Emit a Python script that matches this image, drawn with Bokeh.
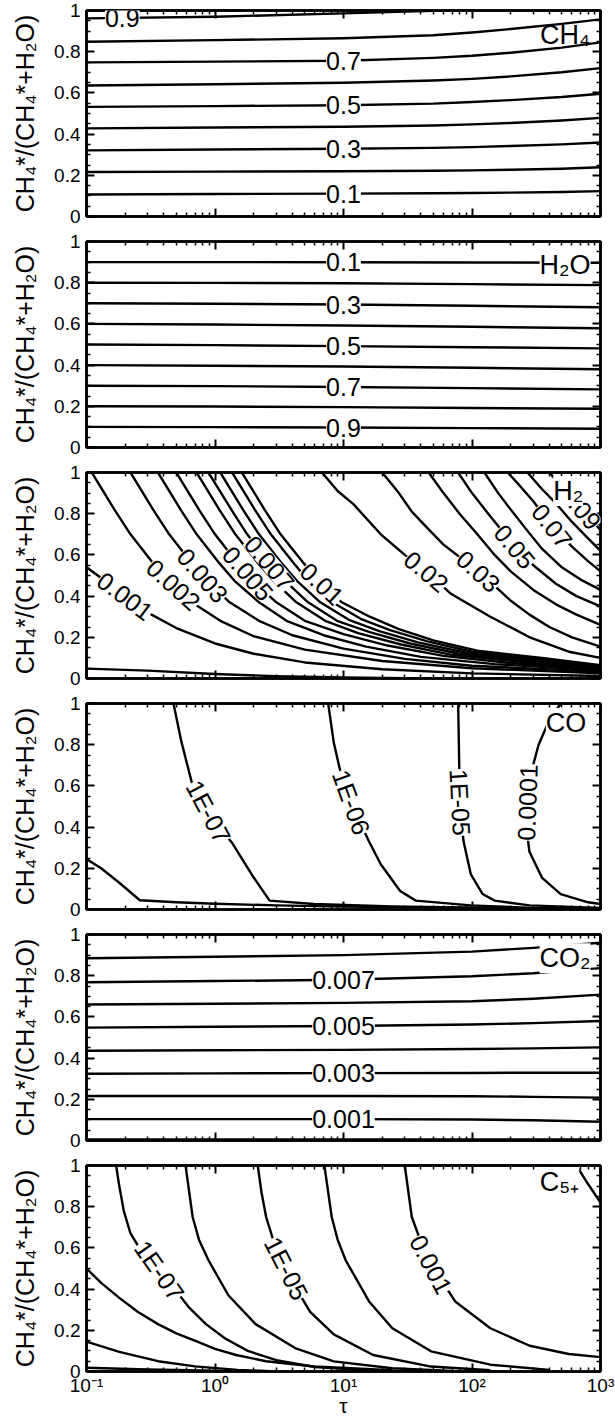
from bokeh.plotting import figure
from bokeh.models import (Range1d, LogAxis, LinearAxis, FixedTicker,
                          CustomJSTickFormatter, ColumnDataSource, LabelSet, Label)
from bokeh.core.properties import value
from bokeh.layouts import column
from bokeh.embed import file_html
from bokeh.resources import INLINE

FONT = "Liberation Sans"

# ---------------- axes / ticks ----------------
TAU_TICKS = [0.1, 1, 10, 100, 1000]
TAU_MINOR = [0.2, 0.3, 0.4, 0.5, 0.6, 0.7, 0.8, 0.9,
             2, 3, 4, 5, 6, 7, 8, 9,
             20, 30, 40, 50, 60, 70, 80, 90,
             200, 300, 400, 500, 600, 700, 800, 900]
Y_TICKS = [0, 0.2, 0.4, 0.6, 0.8, 1.0]
Y_MINOR = [0.05, 0.1, 0.15, 0.25, 0.3, 0.35, 0.45, 0.5, 0.55,
           0.65, 0.7, 0.75, 0.85, 0.9, 0.95]
Y_TITLE = "CH\u2084*/(CH\u2084*+H\u2082O)"
X_TITLE = "\u03c4"

PANEL_NAMES = ["CH\u2084", "H\u2082O", "H\u2082", "CO", "CO\u2082", "C\u2085\u208a"]
PANEL_NAME_TAU = [530, 530, 560, 540, 530, 480]
PANEL_NAME_Y = [0.88, 0.885, 0.91, 0.905, 0.885, 0.92]
PANEL_NAME_BG = [None, "white", "white", "white", "white", "white"]

# ---------------- panel 1 : CH4 ----------------
CH4_TAU = [0.1, 1, 10, 50, 100, 200, 500, 1000]
CH4_LEVELS = [0.1, 0.2, 0.3, 0.4, 0.5, 0.6, 0.7, 0.8, 0.9]
CH4_Y = [
    [0.107, 0.109, 0.111, 0.113, 0.114, 0.116, 0.119, 0.123],
    [0.216, 0.218, 0.220, 0.222, 0.224, 0.227, 0.232, 0.239],
    [0.321, 0.325, 0.329, 0.333, 0.337, 0.342, 0.350, 0.359],
    [0.428, 0.432, 0.436, 0.442, 0.447, 0.454, 0.466, 0.479],
    [0.532, 0.536, 0.540, 0.548, 0.556, 0.565, 0.580, 0.596],
    [0.636, 0.642, 0.649, 0.660, 0.668, 0.680, 0.700, 0.720],
    [0.748, 0.752, 0.756, 0.770, 0.780, 0.795, 0.820, 0.845],
    [0.848, 0.856, 0.865, 0.880, 0.893, 0.910, 0.935, 0.957],
    [0.962, 0.970, 0.986, 0.998, 1.010, 1.030, 1.050, 1.070],
]
CH4_LABEL_TEXT = ["0.9", "0.7", "0.5", "0.3", "0.1"]
CH4_LABEL_TAU = [0.19, 10, 10, 10, 10]
CH4_LABEL_Y = [0.966, 0.756, 0.540, 0.329, 0.111]
CH4_LABEL_ANGLE = [0, 0, 0, 0, 0]

# ---------------- panel 2 : H2O ----------------
H2O_TAU = [0.1, 1, 10, 100, 1000]
H2O_LEVELS = [0.1, 0.2, 0.3, 0.4, 0.5, 0.6, 0.7, 0.8, 0.9]
H2O_Y = [
    [0.900, 0.900, 0.899, 0.898, 0.897],
    [0.800, 0.799, 0.797, 0.793, 0.788],
    [0.700, 0.698, 0.694, 0.688, 0.681],
    [0.600, 0.597, 0.592, 0.586, 0.579],
    [0.500, 0.497, 0.492, 0.487, 0.481],
    [0.400, 0.397, 0.393, 0.387, 0.380],
    [0.300, 0.298, 0.294, 0.288, 0.282],
    [0.200, 0.199, 0.196, 0.192, 0.188],
    [0.100, 0.099, 0.097, 0.094, 0.091],
]
H2O_LABEL_TEXT = ["0.1", "0.3", "0.5", "0.7", "0.9"]
H2O_LABEL_TAU = [10, 10, 10, 10, 10]
H2O_LABEL_Y = [0.899, 0.694, 0.492, 0.294, 0.097]
H2O_LABEL_ANGLE = [0, 0, 0, 0, 0]

# ---------------- panel 3 : H2 ----------------
H2_LEVELS = [0.0005, 0.001, 0.002, 0.003, 0.004, 0.005, 0.006, 0.007, 0.008,
             0.009, 0.01, 0.02, 0.03, 0.04, 0.05, 0.06, 0.07, 0.08, 0.09]
H2_TAU = [
    [0.1, 0.3, 1, 3, 10, 30, 100],
    [0.1, 0.15, 0.2, 0.3, 0.5, 1, 2, 5, 20, 100, 1000],
    [0.11, 0.165, 0.22, 0.33, 0.44, 0.66, 1.1, 2, 5, 20, 100, 1000],
    [0.22, 0.33, 0.44, 0.66, 0.88, 1.3, 2.2, 4, 10, 30, 100, 1000],
    [0.36, 0.54, 0.72, 1.08, 1.44, 2.2, 3.6, 7, 15, 40, 150, 1000],
    [0.5, 0.75, 1.0, 1.5, 2.0, 3.0, 5.0, 10, 22, 60, 200, 1000],
    [0.72, 1.08, 1.44, 2.16, 2.9, 4.3, 7.2, 13, 28, 70, 250, 1000],
    [0.89, 1.34, 1.78, 2.67, 3.56, 5.3, 8.9, 16, 33, 80, 280, 1000],
    [1.1, 1.65, 2.2, 3.3, 4.4, 6.6, 11, 19, 38, 90, 300, 1000],
    [1.36, 2.04, 2.72, 4.1, 5.4, 8.2, 13.6, 23, 45, 100, 320, 1000],
    [1.62, 2.43, 3.24, 4.9, 6.5, 9.7, 16, 27, 50, 110, 350, 1000],
    [6.8, 9, 12, 19.5, 30, 44, 69, 139, 281, 567, 1000],
    [20, 27, 34, 45, 60, 80, 112, 150, 198, 280, 400, 600, 1000],
    [46, 60, 80, 110, 150, 200, 300, 450, 650, 1000],
    [78, 100, 130, 170, 215, 300, 450, 650, 1000],
    [125, 160, 200, 260, 350, 500, 700, 1000],
    [190, 240, 300, 420, 600, 800, 1000],
    [270, 350, 450, 600, 800, 1000],
    [400, 500, 650, 800, 1000],
]
H2_Y = [
    [0.048, 0.038, 0.022, 0.011, 0.005, 0.002, 0.0],
    [0.54, 0.46, 0.40, 0.32, 0.245, 0.17, 0.12, 0.078, 0.045, 0.025, 0.012],
    [1.0, 0.82, 0.70, 0.56, 0.47, 0.37, 0.28, 0.205, 0.14, 0.085, 0.05, 0.025],
    [1.0, 0.82, 0.70, 0.56, 0.47, 0.37, 0.28, 0.21, 0.145, 0.095, 0.062, 0.032],
    [1.0, 0.82, 0.70, 0.56, 0.47, 0.37, 0.28, 0.21, 0.155, 0.105, 0.07, 0.038],
    [1.0, 0.82, 0.70, 0.56, 0.47, 0.37, 0.28, 0.215, 0.16, 0.11, 0.075, 0.043],
    [1.0, 0.82, 0.70, 0.56, 0.47, 0.37, 0.28, 0.22, 0.165, 0.115, 0.08, 0.048],
    [1.0, 0.82, 0.70, 0.56, 0.47, 0.37, 0.28, 0.225, 0.17, 0.12, 0.085, 0.052],
    [1.0, 0.82, 0.70, 0.56, 0.47, 0.37, 0.285, 0.23, 0.175, 0.125, 0.09, 0.056],
    [1.0, 0.82, 0.70, 0.56, 0.47, 0.37, 0.29, 0.235, 0.18, 0.13, 0.095, 0.06],
    [1.0, 0.82, 0.70, 0.56, 0.47, 0.37, 0.30, 0.24, 0.185, 0.135, 0.10, 0.065],
    [1.0, 0.91, 0.845, 0.70, 0.60, 0.52, 0.41, 0.30, 0.20, 0.13, 0.10],
    [1.0, 0.9, 0.81, 0.73, 0.65, 0.59, 0.52, 0.45, 0.38, 0.31, 0.25, 0.2, 0.155],
    [1.0, 0.9, 0.8, 0.7, 0.6, 0.52, 0.43, 0.36, 0.31, 0.26],
    [1.0, 0.9, 0.81, 0.72, 0.64, 0.55, 0.46, 0.40, 0.35],
    [1.0, 0.9, 0.82, 0.73, 0.63, 0.54, 0.48, 0.43],
    [1.0, 0.93, 0.86, 0.74, 0.64, 0.57, 0.52],
    [1.0, 0.92, 0.85, 0.76, 0.68, 0.62],
    [1.0, 0.93, 0.85, 0.79, 0.72],
]
H2_LABEL_TEXT = ["0.001", "0.002", "0.003", "0.005", "0.007", "0.01",
                 "0.02", "0.03", "0.05", "0.07", "0.09"]
H2_LABEL_TAU = [0.2, 0.475, 0.8, 1.8, 2.65, 6.8, 44, 112, 215, 420, 700]
H2_LABEL_Y = [0.40, 0.455, 0.50, 0.51, 0.56, 0.46, 0.52, 0.52, 0.64, 0.74, 0.83]
H2_LABEL_ANGLE = [-37, -42, -49, -49, -50, -43, -40, -42, -50, -52, -50]

# ---------------- panel 4 : CO ----------------
CO_LEVELS = [1e-8, 1e-7, 1e-6, 1e-5, 1e-4]
CO_TAU = [
    [0.1, 0.13, 0.18, 0.26, 0.5, 1, 3, 10, 100, 1000],
    [0.475, 0.55, 0.67, 0.96, 1.37, 1.93, 2.66, 5.9, 24, 200, 1000],
    [7.6, 8.4, 9.7, 12, 15.8, 19.5, 27.6, 36.5, 98, 300, 1000],
    [78, 79, 80, 82, 86, 98, 121, 150, 281, 1000],
    [490, 400, 330, 290, 270, 265, 280, 350, 490, 800, 1000],
]
CO_Y = [
    [0.245, 0.2, 0.13, 0.045, 0.035, 0.028, 0.02, 0.014, 0.007, 0.003],
    [1.0, 0.81, 0.6, 0.44, 0.32, 0.17, 0.043, 0.027, 0.015, 0.006, 0.002],
    [1.0, 0.81, 0.64, 0.49, 0.33, 0.22, 0.09, 0.043, 0.02, 0.008, 0.003],
    [1.0, 0.81, 0.6, 0.45, 0.33, 0.17, 0.075, 0.043, 0.02, 0.008],
    [1.0, 0.92, 0.8, 0.67, 0.52, 0.4, 0.28, 0.155, 0.075, 0.035, 0.027],
]
CO_LABEL_TEXT = ["1E-07", "1E-06", "1E-05", "0.0001"]
CO_LABEL_TAU = [0.89, 11.5, 81, 270]
CO_LABEL_Y = [0.474, 0.52, 0.52, 0.52]
CO_LABEL_ANGLE = [-62, -70, -87, 88]

# ---------------- panel 5 : CO2 ----------------
CO2_TAU = [0.1, 1, 10, 100, 300, 1000]
CO2_LEVELS = [0.0, 0.001, 0.002, 0.003, 0.004, 0.005, 0.006, 0.007, 0.008]
CO2_Y = [
    [0.005, 0.005, 0.005, 0.005, 0.005, 0.005],
    [0.104, 0.104, 0.104, 0.102, 0.098, 0.091],
    [0.216, 0.216, 0.216, 0.215, 0.212, 0.208],
    [0.324, 0.326, 0.327, 0.328, 0.329, 0.329],
    [0.436, 0.438, 0.440, 0.444, 0.447, 0.452],
    [0.548, 0.552, 0.556, 0.563, 0.570, 0.580],
    [0.660, 0.664, 0.668, 0.676, 0.688, 0.708],
    [0.768, 0.774, 0.780, 0.797, 0.812, 0.837],
    [0.885, 0.892, 0.900, 0.917, 0.935, 0.960],
]
CO2_LABEL_TEXT = ["0.007", "0.005", "0.003", "0.001"]
CO2_LABEL_TAU = [10, 10, 10, 10]
CO2_LABEL_Y = [0.780, 0.556, 0.327, 0.104]
CO2_LABEL_ANGLE = [0, 0, 0, 0]

# ---------------- panel 6 : C5+ ----------------
C5_LEVELS = [1e-11, 1e-10, 1e-9, 1e-7, 1e-6, 1e-5, 1e-4, 1e-3, 1e-2]
C5_TAU = [
    [0.1, 0.3, 1, 3],
    [0.1, 0.18, 0.36, 0.7, 1.5, 3],
    [0.1, 0.13, 0.178, 0.25, 0.36, 0.5, 0.72, 1.0, 1.46, 2.5, 5.9, 24],
    [0.17, 0.18, 0.195, 0.22, 0.27, 0.37, 0.5, 0.63, 0.85, 1.2, 1.8, 3, 6, 15, 40],
    [0.59, 0.63, 0.67, 0.75, 0.89, 1.27, 2.07, 4.2, 8.4, 24, 70],
    [2.15, 2.3, 2.5, 2.9, 3.6, 4.5, 5.5, 8.4, 17, 48, 139],
    [7.1, 7.6, 8.1, 9, 10.4, 15.8, 24, 48, 139, 400],
    [30, 32, 34, 40, 48, 74, 139, 281, 567, 1000],
    [650, 800, 1000],
]
C5_Y = [
    [0.018, 0.01, 0.004, 0.0],
    [0.145, 0.095, 0.05, 0.025, 0.008, 0.0],
    [0.50, 0.43, 0.36, 0.29, 0.23, 0.185, 0.146, 0.11, 0.08, 0.05, 0.024, 0.006],
    [1.0, 0.9, 0.78, 0.67, 0.58, 0.49, 0.39, 0.31, 0.23, 0.16, 0.10, 0.055, 0.022, 0.006, 0.0],
    [1.0, 0.87, 0.75, 0.64, 0.54, 0.37, 0.23, 0.114, 0.049, 0.016, 0.003],
    [1.0, 0.87, 0.75, 0.62, 0.50, 0.38, 0.29, 0.18, 0.08, 0.024, 0.006],
    [1.0, 0.87, 0.75, 0.64, 0.54, 0.34, 0.21, 0.098, 0.033, 0.008],
    [1.0, 0.87, 0.75, 0.63, 0.52, 0.34, 0.21, 0.125, 0.085, 0.07],
    [1.0, 0.91, 0.82],
]
C5_LABEL_TEXT = ["1E-07", "1E-05", "0.001"]
C5_LABEL_TAU = [0.37, 3.6, 48]
C5_LABEL_Y = [0.49, 0.50, 0.52]
C5_LABEL_ANGLE = [-55, -63, -62]

# ---------------- helpers ----------------
Y_FMT = "return String(Math.round(tick * 10) / 10);"
X_FMT = """
const e = Math.round(Math.log10(tick));
const m = {'-': '\u207b', '0': '\u2070', '1': '\u00b9', '2': '\u00b2', '3': '\u00b3'};
return '10' + String(e).split('').map(c => m[c]).join('');
"""
BLANK_FMT = "return '';"

LINE_W = 2.4
FRAME_W = 2.5


def style_axis(ax, show_labels):
    ax.major_tick_in = 8
    ax.major_tick_out = 0
    ax.minor_tick_in = 4
    ax.minor_tick_out = 0
    ax.axis_line_width = FRAME_W
    ax.axis_line_color = "black"
    ax.major_tick_line_width = 2
    ax.minor_tick_line_width = 1.5
    ax.major_tick_line_color = "black"
    ax.minor_tick_line_color = "black"
    ax.major_label_text_font = FONT
    ax.major_label_text_color = "black"
    ax.axis_label_text_font = FONT
    ax.axis_label_text_font_style = "normal"
    ax.axis_label_text_color = "black"
    if show_labels:
        ax.major_label_text_font_size = "19px"
    else:
        ax.formatter = CustomJSTickFormatter(code=BLANK_FMT)
        ax.major_label_text_font_size = "1px"
        ax.major_label_standoff = 0


def make_panel(idx, taus, ys, ltext, ltau, ly, langle, last):
    h = 266 if last else 231
    p = figure(width=615, height=h, x_axis_type="log",
               x_range=Range1d(0.1, 1000), y_range=Range1d(0, 1),
               output_backend="svg", toolbar_location=None,
               min_border_left=86, min_border_right=15,
               min_border_top=10, min_border_bottom=50 if last else 15)
    p.grid.visible = False
    p.outline_line_color = "black"
    p.outline_line_width = FRAME_W
    p.background_fill_color = "white"
    p.border_fill_color = "white"

    xa = p.xaxis[0]
    xa.ticker = FixedTicker(ticks=TAU_TICKS, minor_ticks=TAU_MINOR)
    if last:
        xa.formatter = CustomJSTickFormatter(code=X_FMT)
    style_axis(xa, last)
    if last:
        xa.axis_label = X_TITLE
        xa.axis_label_text_font_size = "21px"
        xa.major_label_standoff = 3
        xa.axis_label_standoff = -5

    ya = p.yaxis[0]
    ya.ticker = FixedTicker(ticks=Y_TICKS, minor_ticks=Y_MINOR)
    ya.formatter = CustomJSTickFormatter(code=Y_FMT)
    style_axis(ya, True)
    ya.major_label_standoff = 6
    ya.axis_label = Y_TITLE
    ya.axis_label_text_font_size = "25px"
    ya.axis_label_standoff = 12

    ra = LinearAxis(ticker=FixedTicker(ticks=Y_TICKS, minor_ticks=Y_MINOR))
    style_axis(ra, False)
    p.add_layout(ra, "right")
    ta = LogAxis(ticker=FixedTicker(ticks=TAU_TICKS, minor_ticks=TAU_MINOR))
    style_axis(ta, False)
    p.add_layout(ta, "above")

    for tx, ty in zip(taus, ys):
        p.line(x=tx, y=ty, line_color="black", line_width=LINE_W, line_join="round")

    src = ColumnDataSource(dict(x=ltau, y=ly, text=ltext, angle=langle))
    p.add_layout(LabelSet(x="x", y="y", text="text", angle="angle", angle_units="deg",
                          source=src, text_align="center", text_baseline="middle",
                          text_font=value(FONT), text_font_size="25px",
                          text_color="black", background_fill_color="white"))

    nm = Label(x=PANEL_NAME_TAU[idx], y=PANEL_NAME_Y[idx], text=PANEL_NAMES[idx],
               text_font=FONT, text_font_size="27px", text_align="center",
               text_baseline="middle", text_color="black",
               background_fill_color=PANEL_NAME_BG[idx])
    p.add_layout(nm)
    return p


def grid_curves(tau, rows):
    return [tau for _ in rows], rows


panels = []
t, y = grid_curves(CH4_TAU, CH4_Y)
panels.append(make_panel(0, t, y, CH4_LABEL_TEXT, CH4_LABEL_TAU, CH4_LABEL_Y, CH4_LABEL_ANGLE, False))
t, y = grid_curves(H2O_TAU, H2O_Y)
panels.append(make_panel(1, t, y, H2O_LABEL_TEXT, H2O_LABEL_TAU, H2O_LABEL_Y, H2O_LABEL_ANGLE, False))
panels.append(make_panel(2, H2_TAU, H2_Y, H2_LABEL_TEXT, H2_LABEL_TAU, H2_LABEL_Y, H2_LABEL_ANGLE, False))
panels.append(make_panel(3, CO_TAU, CO_Y, CO_LABEL_TEXT, CO_LABEL_TAU, CO_LABEL_Y, CO_LABEL_ANGLE, False))
t, y = grid_curves(CO2_TAU, CO2_Y)
panels.append(make_panel(4, t, y, CO2_LABEL_TEXT, CO2_LABEL_TAU, CO2_LABEL_Y, CO2_LABEL_ANGLE, False))
panels.append(make_panel(5, C5_TAU, C5_Y, C5_LABEL_TEXT, C5_LABEL_TAU, C5_LABEL_Y, C5_LABEL_ANGLE, True))

layout = column(*panels, spacing=0)
open("out.html", "w").write(file_html(layout, INLINE))
